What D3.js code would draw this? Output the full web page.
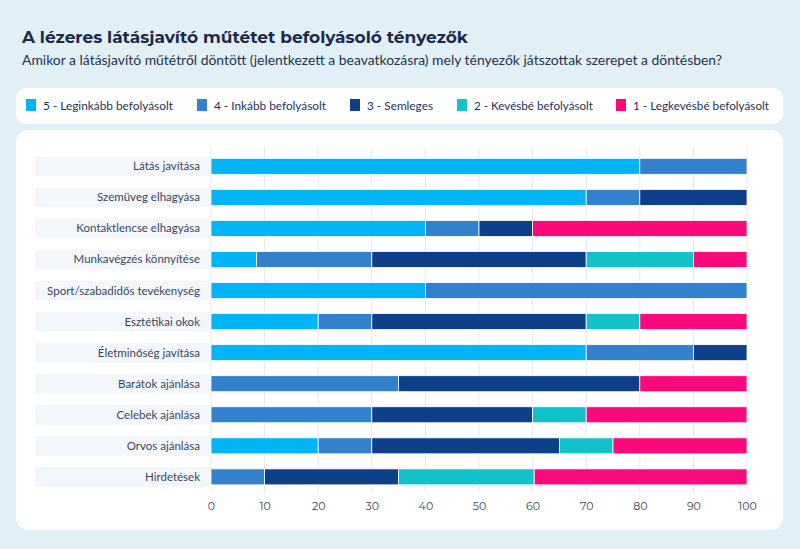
<!DOCTYPE html>
<html><head><meta charset="utf-8">
<script src="https://cdn.jsdelivr.net/npm/d3@7"></script>
<style>
html,body{margin:0;padding:0;background:#e1eff6;}
svg{display:block;}
</style></head>
<body>
<svg id="c" width="800" height="549"></svg>
<script>
const categories = ["Látás javítása","Szemüveg elhagyása","Kontaktlencse elhagyása","Munkavégzés könnyítése","Sport/szabadidős tevékenység","Esztétikai okok","Életminőség javítása","Barátok ajánlása","Celebek ajánlása","Orvos ajánlása","Hirdetések"];
const seriesNames = ["5 - Leginkább befolyásolt","4 - Inkább befolyásolt","3 - Semleges","2 - Kevésbé befolyásolt","1 - Legkevésbé befolyásolt"];
const colors = ["#00b4f7","#3380cc","#0e408a","#12c1ca","#fc0a7c"];
const s5 = [80,70,40,8.5,40,20,70,0,0,20,0];
const s4 = [20,10,10,21.5,60,10,20,35,30,10,10];
const s3 = [0,20,10,40,0,40,10,45,30,35,25];
const s2 = [0,0,0,20,0,10,0,0,10,10,25.3];
const s1 = [0,0,40,10,0,20,0,20,30,25,39.7];
const xTicks = [0,10,20,30,40,50,60,70,80,90,100];
const title = "A lézeres látásjavító műtétet befolyásoló tényezők";
const subtitle = "Amikor a látásjavító műtétről döntött (jelentkezett a beavatkozásra) mely tényezők játszottak szerepet a döntésben?";

const series = [s5,s4,s3,s2,s1];
const rows = categories.map((c,i)=>{const o={cat:c}; series.forEach((s,k)=>o["k"+k]=s[i]); return o;});
const stack = d3.stack().keys(series.map((s,k)=>"k"+k))(rows);

const svg = d3.select("#c");
const font = "Lato, 'Open Sans', sans-serif";

svg.append("text").attr("x",22).attr("y",43).text(title)
  .attr("font-family","Montserrat, 'Open Sans', sans-serif").attr("font-weight",700).attr("font-size",17).attr("fill","#1b2a4a")
  .attr("textLength",446).attr("lengthAdjust","spacingAndGlyphs");
svg.append("text").attr("x",22).attr("y",65).text(subtitle)
  .attr("font-family",font).attr("font-size",13.9).attr("fill","#24334d")
  .attr("textLength",700).attr("lengthAdjust","spacingAndGlyphs");

// legend
svg.append("rect").attr("x",16).attr("y",88).attr("width",767).attr("height",36).attr("rx",10).attr("fill","#fff");
const legX = [26,197,350,457,616];
const legW = [130,112,66,119,136];
const lg = svg.selectAll("g.leg").data(seriesNames).join("g").attr("class","leg")
  .attr("transform",(d,i)=>`translate(${legX[i]},105)`);
lg.append("rect").attr("x",0).attr("y",-6).attr("width",10).attr("height",12).attr("fill",(d,i)=>colors[i]);
lg.append("text").attr("x",17).attr("y",4.5).text(d=>d).attr("font-family",font).attr("font-size",12).attr("fill","#1f3158")
  .attr("textLength",(d,i)=>legW[i]).attr("lengthAdjust","spacingAndGlyphs");

// panel
svg.append("rect").attr("x",16).attr("y",130).attr("width",767).attr("height",400).attr("rx",12).attr("fill","#fff");

const x = d3.scaleLinear().domain([0,100]).range([211,747]);
const y = d3.scaleBand().domain(categories).range([150.8,492.4]).padding(0);
const barH = 16;

// label bands
svg.append("g").selectAll("rect").data(categories).join("rect")
  .attr("x",35).attr("width",176).attr("y",d=>y(d)+y.bandwidth()/2-10).attr("height",20).attr("fill","#f3f7fb");

// grid
svg.append("g").selectAll("line").data(xTicks).join("line")
  .attr("x1",d=>x(d)).attr("x2",d=>x(d)).attr("y1",147).attr("y2",493).attr("stroke","#e7e9ee").attr("stroke-width",1);

// labels
svg.append("g").selectAll("text").data(categories).join("text")
  .attr("x",200).attr("y",d=>y(d)+y.bandwidth()/2+4).attr("text-anchor","end").text(d=>d)
  .attr("font-family",font).attr("font-size",11.5).attr("fill","#3a4658");

// bars
svg.append("g").selectAll("g").data(stack).join("g").attr("fill",(d,i)=>colors[i])
  .selectAll("rect").data(d=>d.filter(p=>p[1]-p[0]>0)).join("rect")
  .attr("x",d=>x(d[0])).attr("width",d=>x(d[1])-x(d[0]))
  .attr("y",d=>y(d.data.cat)+y.bandwidth()/2-barH/2).attr("height",barH)
  .attr("stroke","#ffffff").attr("stroke-width",0.8);

// axis
const ax = svg.append("g").attr("transform","translate(0,493)")
  .call(d3.axisBottom(x).tickValues(xTicks).tickSize(0).tickPadding(9).tickFormat(d3.format("d")));
ax.select(".domain").remove();
ax.selectAll("text").attr("font-family","Montserrat, 'Open Sans', sans-serif").attr("font-size",11).attr("fill","#3a4658");
</script>
</body></html>
